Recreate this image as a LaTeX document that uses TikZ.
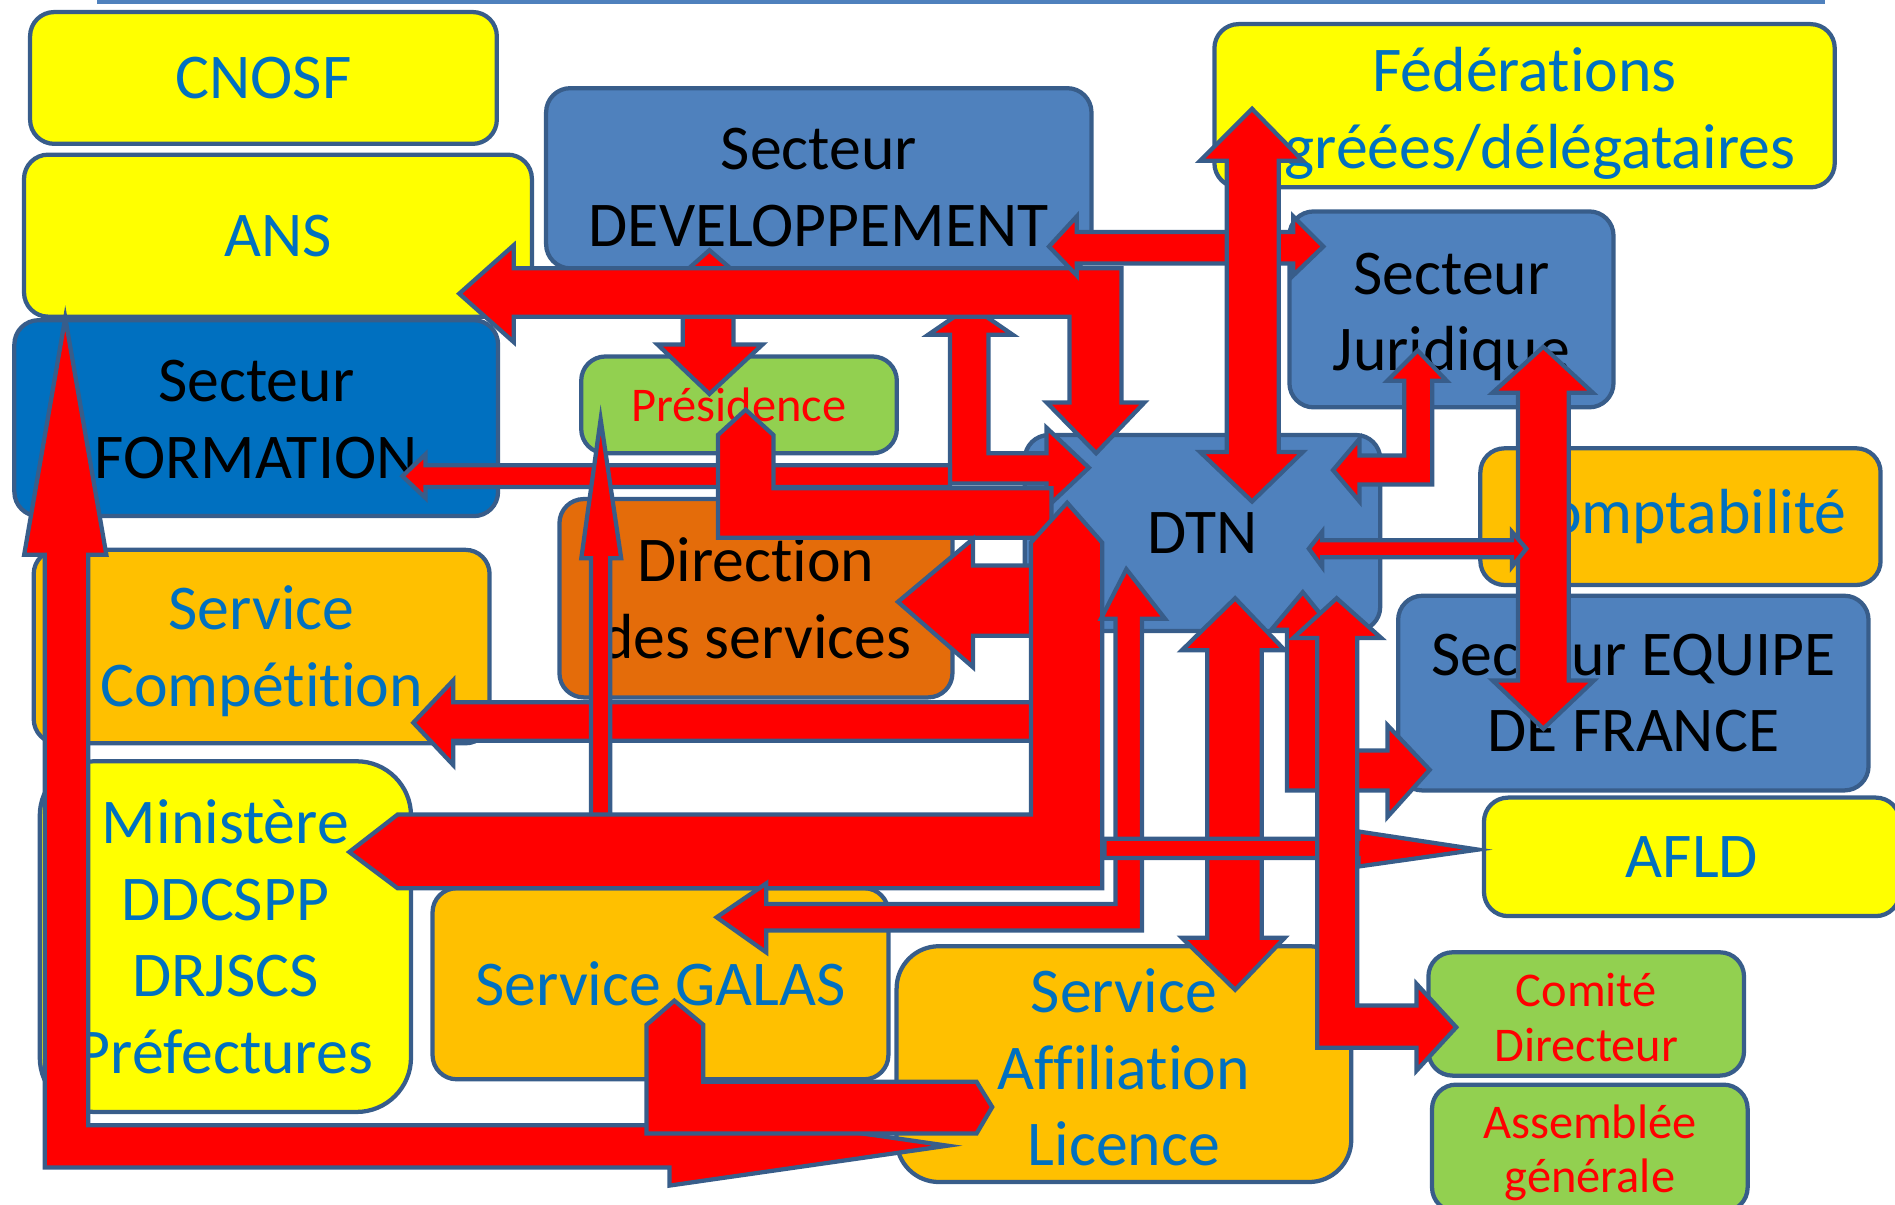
\documentclass[tikz,border=0pt]{standalone}
\usepackage{fontspec}
\setmainfont{Carlito}[Ligatures=NoCommon]
\usepackage{tikz}

\definecolor{outl}{HTML}{385D8A}
\definecolor{yel}{HTML}{FFFF00}
\definecolor{tblue}{HTML}{0070C0}
\definecolor{mblue}{HTML}{4F81BD}
\definecolor{dblue}{HTML}{0070C0}
\definecolor{orng}{HTML}{FFC000}
\definecolor{dirc}{HTML}{E46C0A}
\definecolor{grn}{HTML}{92D050}
\newcommand{\txtpad}[1]{\rule{0pt}{#1}}

\begin{document}
\begin{tikzpicture}[x=0.01cm, y=-0.01cm, line join=miter,
    box/.style={draw=outl, line width=1pt, rounded corners=0.2cm, align=center, inner sep=0pt, font=\fontsize{15}{18}\selectfont},
    small/.style={font=\fontsize{11.4}{12.8}\selectfont},
    arr/.style={fill=red, draw=outl, line width=1pt}]
    \useasboundingbox (0,0) rectangle (1568,997);
    \draw [mblue, line width=1.2pt] (80,1.5) -- (1510,1.5);

    % boxes
    \node [box, fill=yel, text=tblue, minimum width=3.86cm, minimum height=1.09cm] (cnosf) at (218,64.5) {CNOSF};
    \node [box, fill=yel, text=tblue, minimum width=4.2cm, minimum height=1.34cm] (ans) at (230,195) {ANS};
    \node [box, fill=dblue, minimum width=4cm, minimum height=1.62cm] (formation) at (212,346) {\txtpad{10.5pt}Secteur\\FORMATION};
    \node [box, fill=orng, text=tblue, minimum width=3.77cm, minimum height=1.6cm] (competition) at (216.5,535) {\txtpad{12.6pt}Service\\Compétition};
    \node [box, fill=yel, text=tblue, rounded corners=0.45cm, minimum width=3.07cm, minimum height=2.9cm] (ministere) at (186.5,775) {Ministère\\DDCSPP\\DRJSCS\\Préfectures};
    \node [box, fill=mblue, minimum width=4.51cm, minimum height=1.49cm] (dev) at (677.5,147.5) {\txtpad{14.2pt}Secteur\\DEVELOPPEMENT};
    \node [box, small, fill=grn, text=red, minimum width=2.61cm, minimum height=0.8cm] (pres) at (611.5,335) {Présidence};
    \node [box, fill=dirc, minimum width=3.25cm, minimum height=1.64cm] (direction) at (625.5,495) {Direction\\des services};
    \node [box, fill=mblue, minimum width=2.94cm, minimum height=1.62cm] (dtn) at (995,441) {DTN};
    \node [box, fill=yel, text=tblue, minimum width=5.13cm, minimum height=1.35cm] (fed) at (1261.5,87.5) {\txtpad{14pt}Fédérations\\agréées/délégataires};
    \node [box, fill=mblue, minimum width=2.68cm, minimum height=1.62cm] (jur) at (1201,256) {\txtpad{13.4pt}Secteur\\Juridique};
    \node [box, fill=orng, text=tblue, minimum width=3.31cm, minimum height=1.13cm] (compta) at (1390.5,427.5) {Comptabilité};
    \node [box, fill=mblue, minimum width=3.89cm, minimum height=1.61cm] (edf) at (1351.5,573.5) {Secteur EQUIPE\\DE FRANCE};
    \node [box, fill=yel, text=tblue, minimum width=3.44cm, minimum height=0.98cm] (afld) at (1400,709) {AFLD};
    \node [box, fill=orng, text=tblue, minimum width=3.77cm, minimum height=1.58cm] (galas) at (546.5,814) {Service GALAS};
    \node [box, fill=orng, text=tblue, rounded corners=0.35cm, minimum width=3.76cm, minimum height=1.95cm] (affil) at (930,880.5) {\txtpad{12pt}Service\\Affiliation\\Licence};
    \node [box, small, fill=grn, text=red, minimum width=2.61cm, minimum height=1.02cm] (comite) at (1312.5,839) {\txtpad{9.5pt}Comité\\Directeur};
    \node [box, small, fill=grn, text=red, minimum width=2.61cm, minimum height=1.05cm] (ag) at (1315.5,950) {\txtpad{10pt}Assemblée\\générale};

    % arrows under the ANS band
    \draw [arr] (587,207) -- (631,245) -- (607,245) -- (607,285) -- (631,285) -- (587,326) -- (544,285) -- (565,285) -- (565,245) -- (544,245) -- cycle;
    \draw [arr] (803,253) -- (838,277) -- (818,277) -- (818,375) -- (866,375) -- (866,354) -- (901,387) -- (866,420) -- (866,400) -- (786,400) -- (786,277) -- (768,277) -- cycle;
    \draw [arr] (380,243) -- (425,203) -- (425,222) -- (928,222) -- (928,333) -- (947,333) -- (907,375) -- (866,333) -- (885,333) -- (885,262) -- (425,262) -- (425,283) -- cycle;
    \draw [arr] (333,394) -- (352,376) -- (352,385) -- (786,385) -- (786,403) -- (352,403) -- (352,412) -- cycle;

    % arrows from the big L
    \draw [arr] (594,360) -- (617,339) -- (640,360) -- (640,404) -- (870,404) -- (870,445) -- (594,445) -- cycle;
    \draw [arr] (743,498) -- (805,446) -- (805,468) -- (870,468) -- (870,526) -- (805,526) -- (805,552) -- cycle;
    \draw [arr] (342,598) -- (375,563) -- (375,581) -- (870,581) -- (870,613) -- (375,613) -- (375,633) -- cycle;
    \draw [arr] (497,347) -- (514,462) -- (505,462) -- (505,690) -- (489,690) -- (489,462) -- (481,462) -- cycle;
    \draw [arr] (289,705) -- (329,674) -- (853,674) -- (853,449) -- (883,416) -- (912,449) -- (912,735) -- (329,735) -- cycle;

    % arrows below the DTN
    \draw [arr] (932,471) -- (964,512) -- (945,512) -- (945,770) -- (634,770) -- (634,788) -- (593,759) -- (634,731) -- (634,748) -- (923,748) -- (923,512) -- (911,512) -- cycle;
    \draw [arr] (1022,495) -- (1063,538) -- (1044,538) -- (1044,776) -- (1063,776) -- (1022,819) -- (978,776) -- (999,776) -- (999,538) -- (978,538) -- cycle;
    \draw [arr] (914,694) -- (1124,694) -- (1124,688) -- (1223,703) -- (1124,717) -- (1124,710) -- (914,710) -- cycle;
    \draw [arr] (1078,490) -- (1103,521) -- (1090,521) -- (1090,621) -- (1148,621) -- (1148,600) -- (1183,637) -- (1148,676) -- (1148,654) -- (1065,654) -- (1065,521) -- (1052,521) -- cycle;
    \draw [arr] (1106,495) -- (1143,528) -- (1123,528) -- (1123,832) -- (1172,832) -- (1172,814) -- (1205,850) -- (1172,886) -- (1172,867) -- (1090,867) -- (1090,528) -- (1070,528) -- cycle;

    % arrows above the DTN
    \draw [arr] (868,204) -- (891,179) -- (891,192) -- (1070,192) -- (1070,179) -- (1095,204) -- (1070,228) -- (1070,218) -- (891,218) -- (891,228) -- cycle;
    \draw [arr] (1036,90) -- (1078,133) -- (1058,133) -- (1058,374) -- (1078,374) -- (1036,415) -- (993,374) -- (1015,374) -- (1015,133) -- (993,133) -- cycle;
    \draw [arr] (1173,290) -- (1197,315) -- (1185,315) -- (1185,401) -- (1125,401) -- (1125,415) -- (1103,389) -- (1125,363) -- (1125,377) -- (1162,377) -- (1162,315) -- (1148,315) -- cycle;
    \draw [arr] (1277,287) -- (1318,325) -- (1298,325) -- (1298,563) -- (1319,563) -- (1277,603) -- (1235,563) -- (1256,563) -- (1256,325) -- (1235,325) -- cycle;
    \draw [arr] (1083,454) -- (1094,440) -- (1094,447) -- (1251,447) -- (1251,440) -- (1263,454) -- (1251,469) -- (1251,461) -- (1094,461) -- (1094,469) -- cycle;

    % left and bottom
    \draw [arr] (54,263) -- (88,459) -- (73,459) -- (73,931) -- (554,931) -- (554,915) -- (784,948) -- (554,981) -- (554,966) -- (37,966) -- (37,459) -- (20,459) -- cycle;
    \draw [arr] (535,848) -- (558,828) -- (582,848) -- (582,895) -- (808,895) -- (821,916) -- (808,938) -- (535,938) -- cycle;
\end{tikzpicture}
\end{document}
